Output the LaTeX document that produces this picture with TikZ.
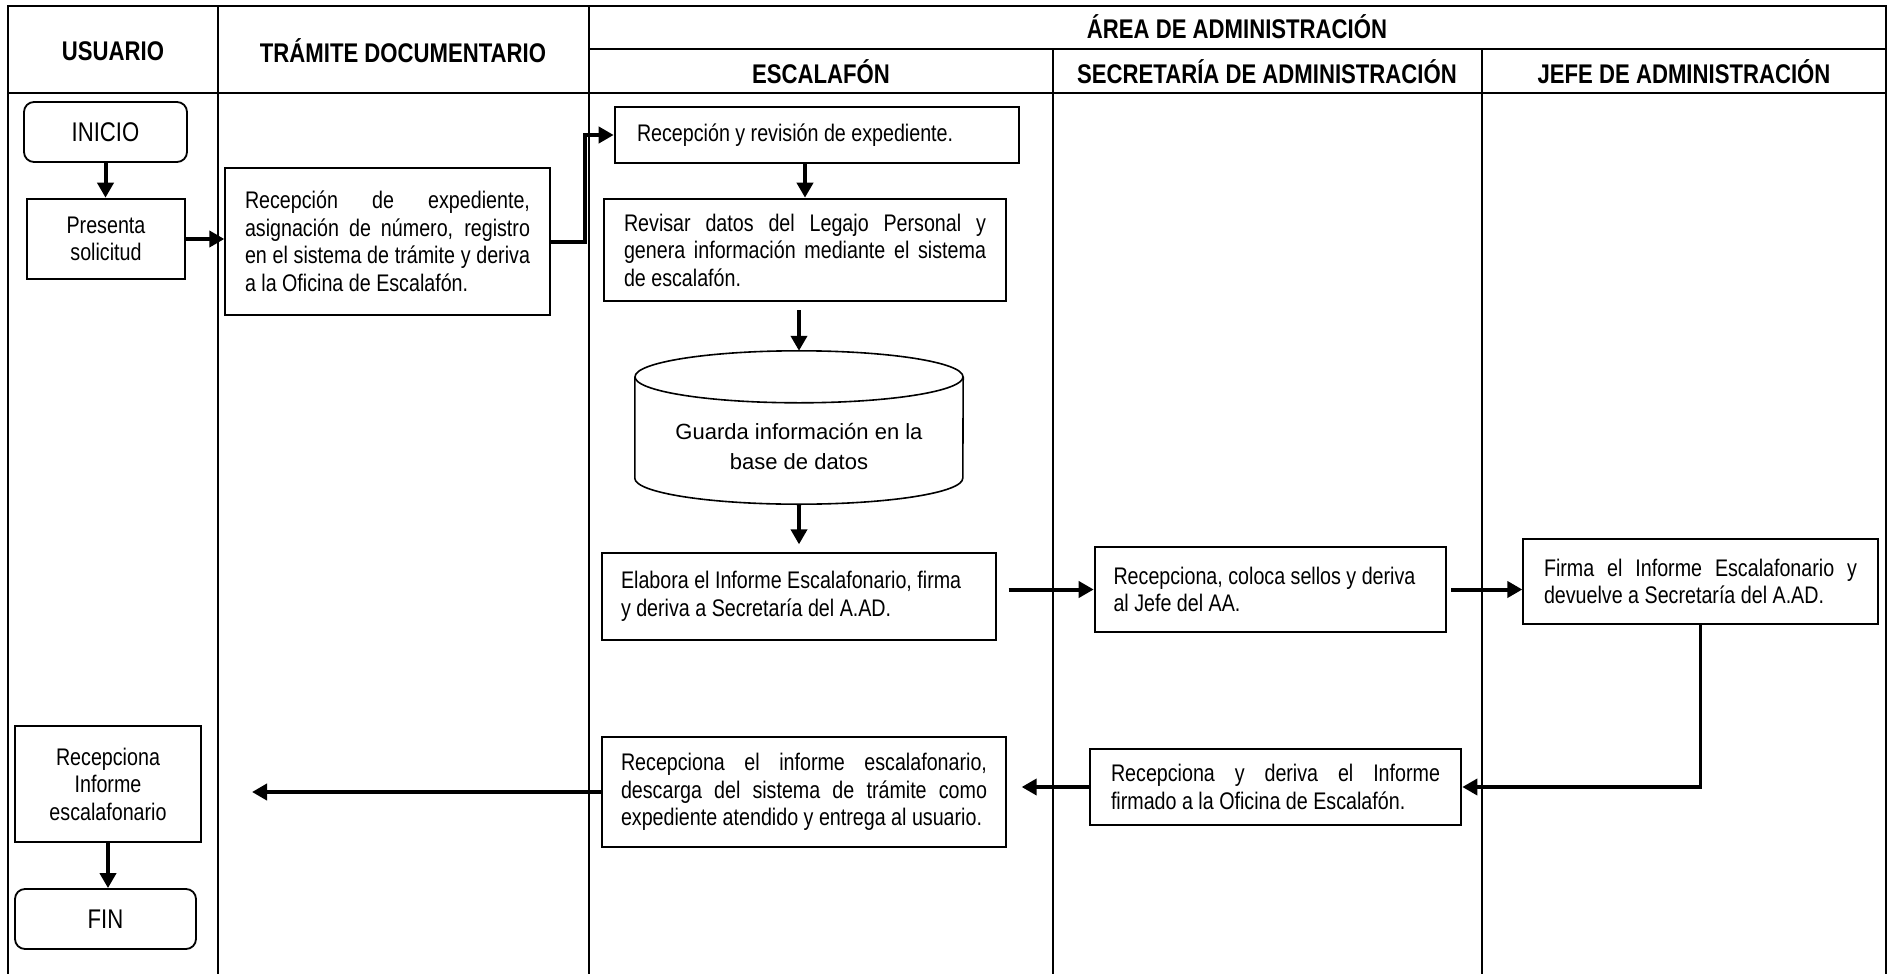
\documentclass[tikz,border=0pt]{standalone}
\usepackage{fontspec}
\setmainfont{Liberation Sans}[FakeStretch=0.82]
\newfontfamily\anchafont{Liberation Sans}
\usetikzlibrary{arrows.meta}
\newcommand\textoflujo{\fontsize{24}{27.5}\selectfont}
\newcommand\textotitulo{\fontsize{27}{30}\selectfont\bfseries}

\begin{document}
\begin{tikzpicture}[x=1pt, y=-1pt,
    marco/.style={line width=2pt},
    titulo/.style={font=\textotitulo, inner sep=0pt},
    caja/.style={draw, line width=1.3pt, font=\textoflujo, inner ysep=2pt, align=justify},
    gruesa/.style={caja, line width=2.6pt},
    terminal/.style={draw, rounded corners=10pt, line width=1.8pt, font=\fontsize{27}{30}\selectfont},
    flecha/.style={line width=4pt, -{Triangle[length=15pt,width=16pt]}}]
    \useasboundingbox (0,0) rectangle (1892,974);

    % Table of lanes
    \draw[marco] (8,974) -- (8,6) -- (1886,6) -- (1886,974);
    \draw[marco] (8,93) -- (1886,93);
    \draw[marco] (589,49) -- (1886,49);
    \foreach \x in {218,589} \draw[marco] (\x,6) -- (\x,974);
    \foreach \x in {1053,1482} \draw[marco] (\x,49) -- (\x,974);

    % Headers
    \node[titulo] (usuario) at (113,51) {USUARIO};
    \node[titulo] (tramite) at (403,51) {TRÁMITE DOCUMENTARIO};
    \node[titulo] (area) at (1237,27) {ÁREA DE ADMINISTRACIÓN};
    \node[titulo] (escalafon) at (821,72) {ESCALAFÓN};
    \node[titulo] (secretaria) at (1267,72) {SECRETARÍA DE ADMINISTRACIÓN};
    \node[titulo] (jefe) at (1684,72) {JEFE DE ADMINISTRACIÓN};

    % Usuario
    \node[terminal, minimum width=163pt, minimum height=60pt] (inicio) at (105.5,132) {INICIO};
    \node[gruesa, align=center, minimum width=158pt, minimum height=80pt] (presenta) at (106,239) {Presenta\\solicitud};
    \node[gruesa, line width=2pt, align=center, minimum width=186pt, minimum height=116pt] (recibe) at (108,784) {Recepciona\\Informe\\escalafonario};
    \node[terminal, minimum width=181pt, minimum height=60pt] (fin) at (105.5,919) {FIN};

    % Tramite documentario
    \node[caja, text width=285pt, inner xsep=20pt, minimum height=147pt] (recepcion) at (387.5,241.5) {Recepción de expediente,\linebreak asignación de número, registro\linebreak en el sistema de trámite y deriva\linebreak a la Oficina de Escalafón.};

    % Escalafon
    \node[gruesa, text width=360pt, inner xsep=22pt, minimum height=56pt] (revision) at (817,135) {Recepción y revisión de expediente.};
    \node[gruesa, text width=362pt, inner xsep=20pt, minimum height=102pt] (revisar) at (805,250) {Revisar datos del Legajo Personal y\linebreak genera información mediante el sistema\linebreak de escalafón.};
    \node[font={\anchafont\fontsize{22}{30}\selectfont}, align=center, minimum width=328pt, minimum height=115pt, inner sep=0pt] (base) at (799,446.5) {Guarda información en la\\base de datos};
    \draw[line width=1.6pt] ([yshift=12pt]base.north) ellipse [x radius=164pt, y radius=26pt];
    \draw[line width=1.6pt] ([yshift=12pt]base.north west) -- ([yshift=26pt]base.south west) arc[start angle=180, end angle=360, x radius=164pt, y radius=26pt] -- ([yshift=12pt]base.north east);
    \coordinate (basetope) at ([yshift=38pt]base.north);
    \node[caja, text width=356pt, inner xsep=19pt, minimum height=87pt] (elabora) at (799,596.5) {Elabora el Informe Escalafonario, firma\\y deriva a Secretaría del A.AD.};
    \node[caja, text width=366pt, inner xsep=19pt, minimum height=110pt] (entrega) at (804,792) {Recepciona el informe escalafonario,\linebreak descarga del sistema de trámite como\linebreak expediente atendido y entrega al usuario.};

    % Secretaria y Jefe
    \node[gruesa, text width=314pt, inner xsep=18.5pt, minimum height=85pt] (coloca) at (1270.5,589.5) {Recepciona, coloca sellos y deriva\\al Jefe del AA.};
    \node[gruesa, text width=329pt, inner xsep=21pt, minimum height=76pt] (deriva) at (1275.5,787) {Recepciona y deriva el Informe\linebreak firmado a la Oficina de Escalafón.};
    \node[caja, text width=313pt, inner xsep=21pt, minimum height=85pt] (firma) at (1700.5,581.5) {Firma el Informe Escalafonario y\linebreak devuelve a Secretaría del A.AD.};

    % Arrows
    \draw[flecha] (inicio.south) -- (inicio.south |- presenta.north);
    \draw[flecha] (presenta.east) -- (presenta.east -| recepcion.west);
    \draw[flecha] (recepcion.east) -- ++(34,0) |- (revision.west);
    \draw[flecha] (revision.south -| revisar.north) -- (revisar.north);
    \draw[flecha, shorten <=8pt] (revisar.south -| basetope) -- (basetope);
    \draw[flecha, shorten >=8pt] (base.south) -- (base.south |- elabora.north);
    \draw[flecha, shorten <=12pt] (elabora.east |- coloca.west) -- (coloca.west);
    \draw[flecha, shorten <=4pt] (coloca.east) -- (coloca.east -| firma.west);
    \draw[flecha, line width=3.5pt] (firma.south) |- (deriva.east);
    \draw[flecha, shorten >=15pt] (deriva.west) -- (deriva.west -| entrega.east);
    \draw[flecha, shorten >=50pt] (entrega.west) -- (entrega.west -| recibe.east);
    \draw[flecha] (recibe.south) -- (recibe.south |- fin.north);
\end{tikzpicture}
\end{document}
